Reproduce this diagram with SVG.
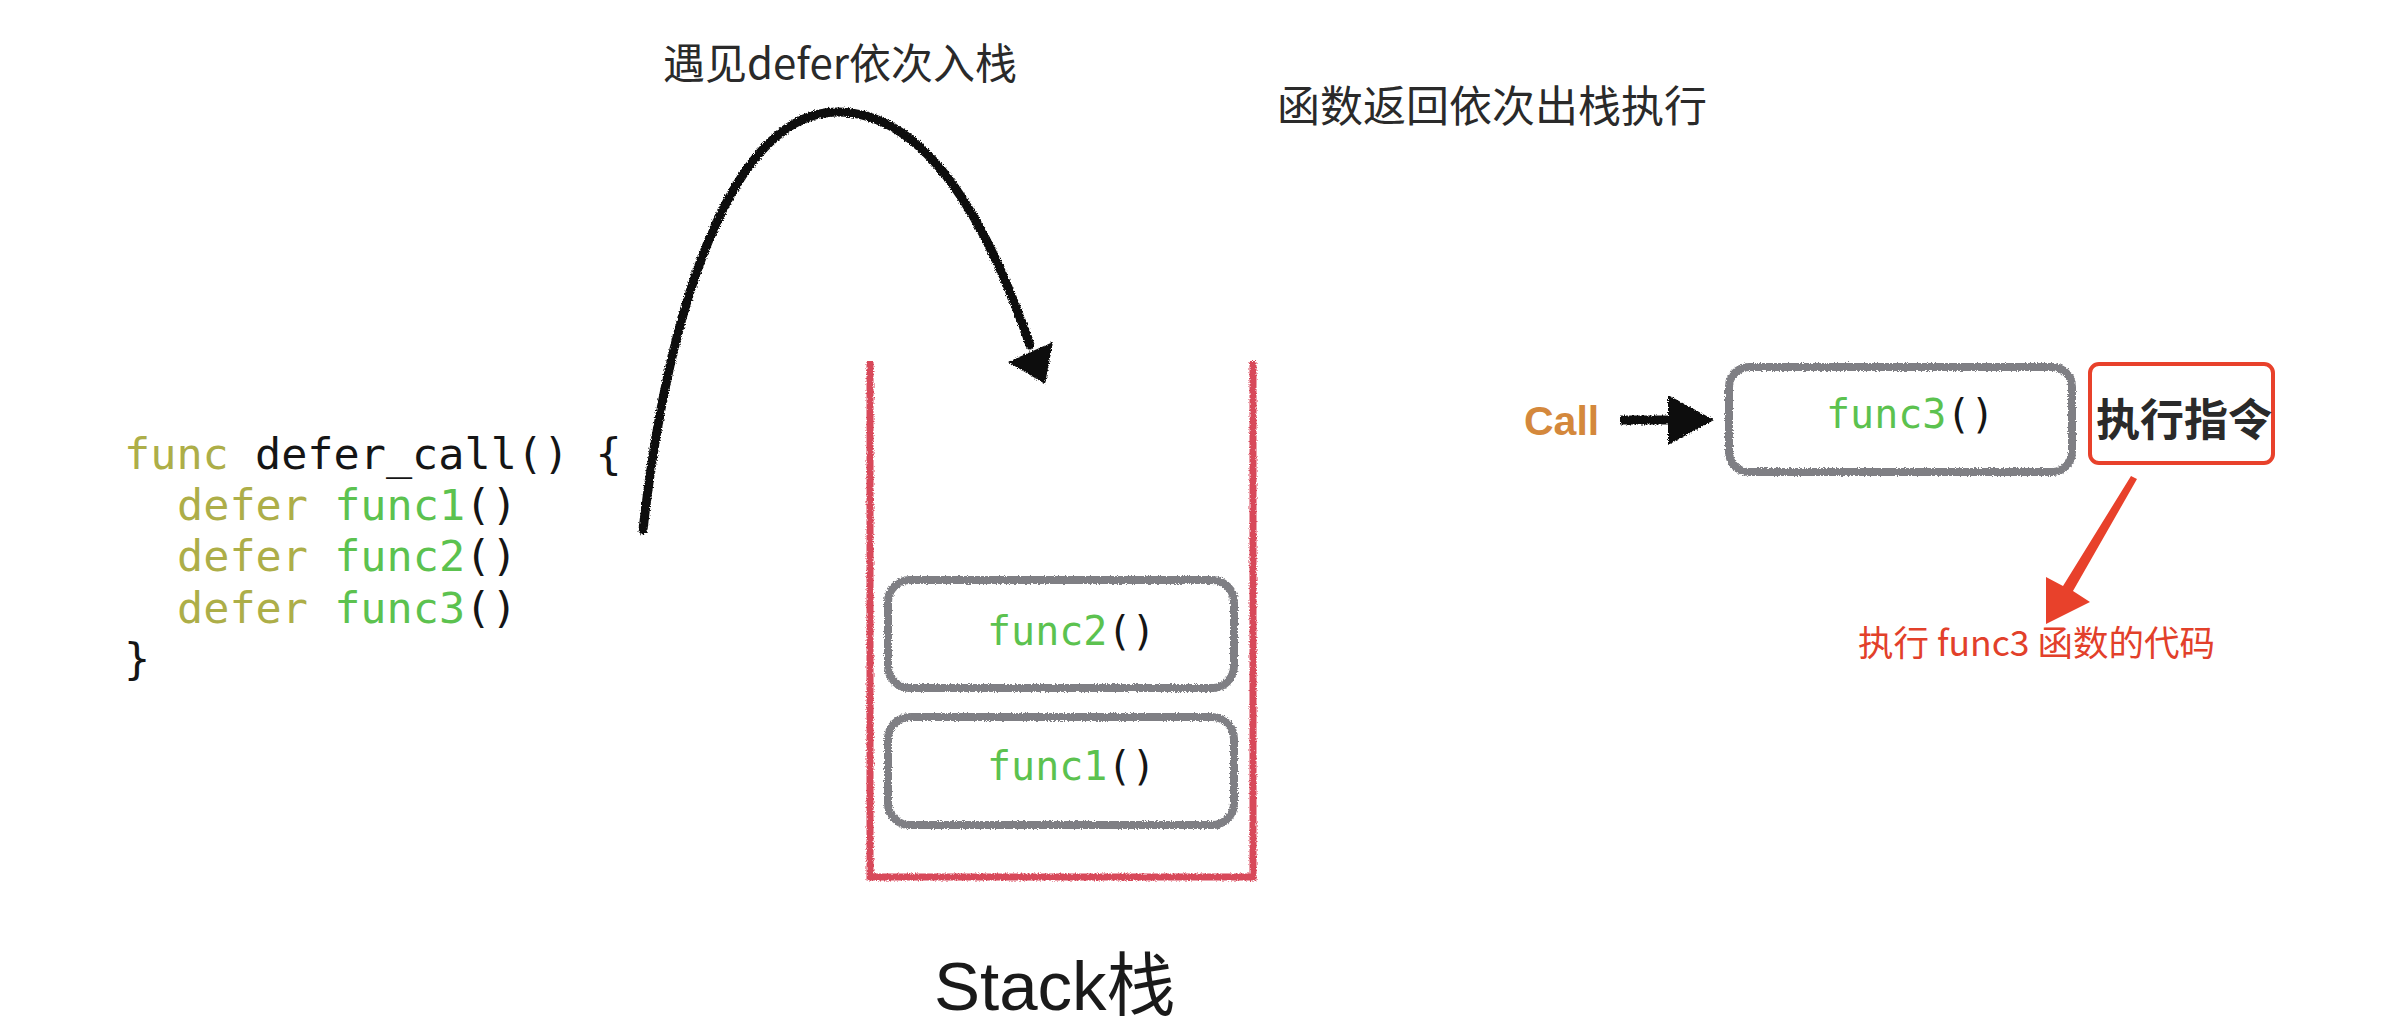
<svg xmlns="http://www.w3.org/2000/svg" width="2390" height="1034" viewBox="0 0 2390 1034">
  <defs>
    <style>
      .cjk { font-family: "Noto Sans CJK SC", "Liberation Sans", sans-serif; fill: #2a2a2a; }
      .mono { font-family: "DejaVu Sans Mono", "Liberation Mono", monospace; }
      .kw { fill: #adae48; }
      .fn { fill: #5cc24f; }
      .pl { fill: #151515; }
      .box { fill: none; stroke: #7f7f84; stroke-width: 8; }
    </style>
    <filter id="rough" filterUnits="userSpaceOnUse" x="0" y="0" width="2390" height="1034">
      <feTurbulence type="fractalNoise" baseFrequency="0.7" numOctaves="2" seed="4" result="n"/>
      <feDisplacementMap in="SourceGraphic" in2="n" scale="4" xChannelSelector="R" yChannelSelector="G"/>
    </filter>
  </defs>
  <rect width="2390" height="1034" fill="#ffffff"/>

  <g id="label-push">
    <text class="cjk" x="663" y="79" font-size="42">遇见defer依次入栈</text>
  </g>
  <g id="label-pop">
    <text class="cjk" x="1277" y="122" font-size="43">函数返回依次出栈执行</text>
  </g>

  <g id="code" class="mono" font-size="43.5">
    <text x="124" y="469"><tspan class="kw">func</tspan><tspan class="pl"> defer_call() {</tspan></text>
    <text x="177" y="520"><tspan class="kw">defer</tspan><tspan class="pl"> </tspan><tspan class="fn">func1</tspan><tspan class="pl">()</tspan></text>
    <text x="177" y="571"><tspan class="kw">defer</tspan><tspan class="pl"> </tspan><tspan class="fn">func2</tspan><tspan class="pl">()</tspan></text>
    <text x="177" y="623"><tspan class="kw">defer</tspan><tspan class="pl"> </tspan><tspan class="fn">func3</tspan><tspan class="pl">()</tspan></text>
    <text x="124" y="674" class="pl">}</text>
  </g>

  <g id="stack">
    <path d="M 870 361 L 870 877 L 1253 877 L 1253 361" fill="none" stroke="#d8495a" stroke-width="7" filter="url(#rough)"/>
    <text x="934" y="1010" font-family="Liberation Sans, Noto Sans CJK SC, sans-serif" font-size="69" fill="#1a1a1a">Stack栈</text>
  </g>

  <g id="func2-box">
    <rect class="box" x="888" y="580" width="346" height="108" rx="22" filter="url(#rough)"/>
    <text class="mono" x="987" y="645" font-size="40"><tspan class="fn">func2</tspan><tspan class="pl">()</tspan></text>
  </g>
  <g id="func1-box">
    <rect class="box" x="888" y="717" width="346" height="108" rx="22" filter="url(#rough)"/>
    <text class="mono" x="987" y="780" font-size="40"><tspan class="fn">func1</tspan><tspan class="pl">()</tspan></text>
  </g>

  <g id="call-label">
    <text x="1524" y="435" font-family="Liberation Sans, sans-serif" font-weight="bold" font-size="41" fill="#d4883c">Call</text>
  </g>
  <g id="func3-box">
    <rect class="box" x="1729" y="367" width="343" height="105" rx="20" filter="url(#rough)"/>
    <text class="mono" x="1826" y="428" font-size="40"><tspan class="fn">func3</tspan><tspan class="pl">()</tspan></text>
  </g>
  <g id="exec-box">
    <rect x="2090" y="364" width="183" height="99" rx="9" fill="none" stroke="#e8412b" stroke-width="4"/>
    <text class="cjk" x="2096" y="436" font-size="44" font-weight="bold" fill="#111">执行指令</text>
  </g>
  <g id="exec-note">
    <text x="1858" y="656" font-family="Noto Sans CJK SC, sans-serif" font-size="35.5" fill="#e2402a">执行 func3 函数的代码</text>
  </g>

  <g id="connectors">
    <g filter="url(#rough)">
      <path d="M 643 530 C 672 275, 742 112, 837 112 C 930 112, 990 230, 1030 345" fill="none" stroke="#111" stroke-width="9" stroke-linecap="round"/>
      <polygon points="1008,362 1053,342 1045,384" fill="#111"/>
      <line x1="1620" y1="420" x2="1676" y2="420" stroke="#111" stroke-width="9"/>
      <polygon points="1668,395 1714,420 1668,445" fill="#111"/>
    </g>
    <polygon points="2131,476 2137,479 2073,591 2090,602 2046,624 2046,577 2063,586" fill="#e8412b"/>
  </g>
</svg>
